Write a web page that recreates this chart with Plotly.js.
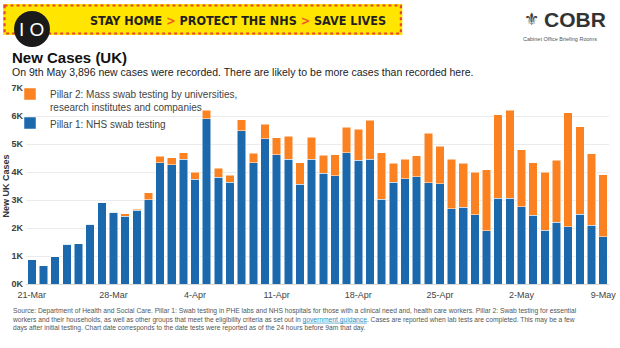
<!DOCTYPE html>
<html>
<head>
<meta charset="utf-8">
<script src="https://cdn.plot.ly/plotly-3.0.1.min.js"></script>
<style>html,body{margin:0;padding:0;background:#fff;}#chart{width:620px;height:348px;}</style>
</head>
<body>
<div id="chart"></div>
<script>
// ---- data ----
const dates = ['21-Mar','22-Mar','23-Mar','24-Mar','25-Mar','26-Mar','27-Mar','28-Mar','29-Mar','30-Mar','31-Mar',
  '1-Apr','2-Apr','3-Apr','4-Apr','5-Apr','6-Apr','7-Apr','8-Apr','9-Apr','10-Apr','11-Apr','12-Apr','13-Apr','14-Apr',
  '15-Apr','16-Apr','17-Apr','18-Apr','19-Apr','20-Apr','21-Apr','22-Apr','23-Apr','24-Apr','25-Apr','26-Apr','27-Apr',
  '28-Apr','29-Apr','30-Apr','1-May','2-May','3-May','4-May','5-May','6-May','7-May','8-May','9-May'];
const pillar1 = [870,660,970,1430,1440,2140,2900,2570,2420,2630,3010,
  4330,4260,4460,3750,5910,3810,3640,5490,4340,5200,4620,4460,3560,
  4470,3960,3870,4690,4420,4470,3030,3640,3770,3840,3630,3580,2700,
  2740,2470,1910,3070,3070,2770,2460,1930,2210,2040,2490,2110,1690];
const pillar2 = [0,0,0,0,0,0,0,0,90,40,250,
  240,250,230,250,300,330,250,380,340,520,610,830,780,
  780,650,760,920,1120,1390,1660,670,690,750,1760,1340,1760,
  1570,1530,2180,2980,3140,2030,1880,2060,2210,4080,3130,2540,2210];
const xTickVals = ['21-Mar','28-Mar','4-Apr','11-Apr','18-Apr','25-Apr','2-May','9-May'];
const yTickVals = [0,1000,2000,3000,4000,5000,6000,7000];
const yTickText = ['0K','1K','2K','3K','4K','5K','6K','7K'];
const name1 = 'Pillar 1: NHS swab testing';
const name2 = 'Pillar 2: Mass swab testing by universities,<br>research institutes and companies';

// ---- layout helpers (pixel -> paper) ----
const L = 25, R = 609, T = 88, B = 284;
const fx = p => (p - L) / (R - L);
const fy = p => (B - p) / (B - T);

const FONT = 'Arial, "Liberation Sans", sans-serif';
const BLUE = '#1c68ad', ORANGE = '#fb8121';

const traces = [
  {type:'bar', x:dates, y:pillar1, name:name1, marker:{color:BLUE, line:{color:'#ffffff', width:0.5}}, hoverinfo:'x+y'},
  {type:'bar', x:dates, y:pillar2, name:name2, marker:{color:ORANGE, line:{color:'#ffffff', width:0.5}}, hoverinfo:'x+y'}
];

const layout = {
  width:620, height:348,
  margin:{l:L, r:620-R, t:T, b:348-B, pad:0},
  paper_bgcolor:'#ffffff', plot_bgcolor:'#ffffff',
  font:{family:FONT, color:'#333'},
  barmode:'stack', bargap:0.27,
  showlegend:true,
  legend:{x:fx(10), xanchor:'left', y:fy(81), yanchor:'top', traceorder:'reversed', valign:'top',
    bgcolor:'rgba(0,0,0,0)', font:{size:10, color:'#444', family:FONT}},
  xaxis:{type:'category', tickvals:xTickVals, ticktext:xTickVals, tickfont:{size:9, color:'#444'},
    showgrid:false, showline:true, linecolor:'#d9d9d9', linewidth:1, ticks:'', ticklabelstandoff:2,
    fixedrange:true},
  yaxis:{range:[0,7010], tickvals:yTickVals, ticktext:yTickText, tickfont:{size:9, color:'#404040', family:FONT, weight:'bold'},
    showgrid:true, gridcolor:'#ebebeb', gridwidth:1, zeroline:false, ticks:'', ticklabelstandoff:2,
    title:{text:'<b>New UK Cases</b>', font:{size:9, color:'#333'}, standoff:0}, automargin:false, fixedrange:true},
  shapes:[
    {type:'rect', xref:'paper', yref:'paper', x0:fx(2), x1:fx(402), y0:fy(4), y1:fy(35), fillcolor:'#ffe500', line:{width:0}, layer:'above'},
    {type:'rect', xref:'paper', yref:'paper', x0:fx(3.5), x1:fx(400.5), y0:fy(5.5), y1:fy(33.5), fillcolor:'rgba(0,0,0,0)', line:{color:'#e8452f', width:2.2, dash:'3px,3px'}, layer:'above'},
    {type:'circle', xref:'paper', yref:'paper', x0:fx(13), x1:fx(49), y0:fy(11), y1:fy(47), fillcolor:'#1a1a1a', line:{width:0}, layer:'above'}
  ],
  annotations:[
    {xref:'paper', yref:'paper', x:fx(31), y:fy(29.5), xanchor:'center', yanchor:'middle', showarrow:false,
      text:'I O', font:{size:19, color:'#ffffff', family:FONT}},
    {xref:'paper', yref:'paper', x:fx(237), y:fy(20), xanchor:'center', yanchor:'middle', showarrow:false,
      text:'<span style="font-stretch:condensed;font-weight:bold">STAY HOME <span style="color:#f05a28">&gt;</span> PROTECT THE NHS <span style="color:#f05a28">&gt;</span> SAVE LIVES</span>',
      font:{size:12.5, color:'#231f20', family:'"DejaVu Sans", sans-serif', weight:'bold'}},
    {xref:'paper', yref:'paper', x:fx(531), y:fy(19), xanchor:'center', yanchor:'middle', showarrow:false,
      text:'⚜', font:{size:17, color:'#3a3a3a', family:'DejaVu Sans'}},
    {xref:'paper', yref:'paper', x:fx(542), y:fy(19), xanchor:'left', yanchor:'middle', showarrow:false,
      text:'<b>COBR</b>', font:{size:21, color:'#333', family:FONT}},
    {xref:'paper', yref:'paper', x:fx(521), y:fy(39), xanchor:'left', yanchor:'middle', showarrow:false,
      text:'Cabinet Office Briefing Rooms', font:{size:5.5, color:'#555', family:FONT}},
    {xref:'paper', yref:'paper', x:fx(9), y:fy(57), xanchor:'left', yanchor:'middle', showarrow:false,
      text:'<b>New Cases (UK)</b>', font:{size:15, color:'#111', family:FONT}},
    {xref:'paper', yref:'paper', x:fx(9), y:fy(72), xanchor:'left', yanchor:'middle', showarrow:false,
      text:'On 9th May 3,896 new cases were recorded. There are likely to be more cases than recorded here.', font:{size:10.5, color:'#222', family:FONT}},
    {xref:'paper', yref:'paper', x:fx(9), y:fy(305), xanchor:'left', yanchor:'top', showarrow:false, align:'left',
      text:'Source: Department of Health and Social Care. Pillar 1: Swab testing in PHE labs and NHS hospitals for those with a clinical need and, health care workers. Pillar 2: Swab testing for essential<br>' +
           'workers and their households, as well as other groups that meet the eligibility criteria as set out in <span style="color:#2b8fc4;text-decoration:underline">government guidance</span>. Cases are reported when lab tests are completed. This may be a few<br>' +
           'days after initial testing. Chart date corresponds to the date tests were reported as of the 24 hours before 9am that day.',
      font:{size:6.7, color:'#555', family:FONT}}
  ]
};

Plotly.newPlot('chart', traces, layout, {displayModeBar:false, staticPlot:true});
</script>
</body>
</html>
